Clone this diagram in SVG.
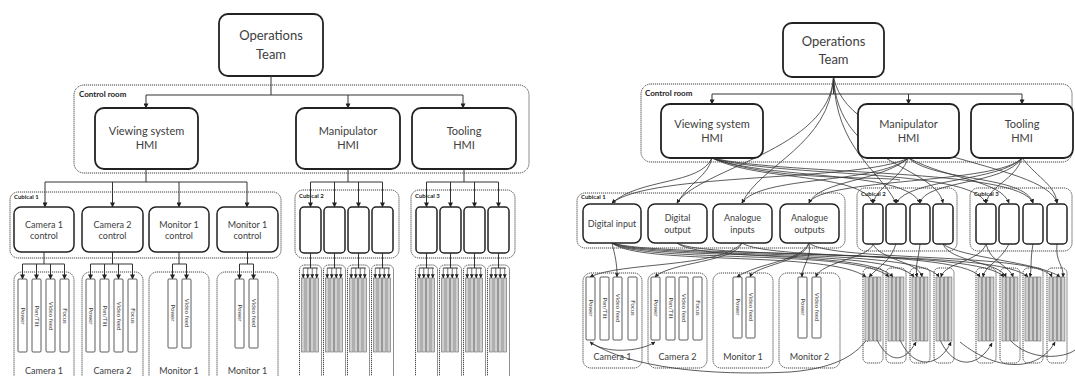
<svg xmlns="http://www.w3.org/2000/svg" width="1075" height="376" viewBox="0 0 1075 376">
<defs>
<marker id="ah" viewBox="0 0 6 6" refX="5.5" refY="3" markerWidth="5" markerHeight="5" orient="auto" markerUnits="userSpaceOnUse"><path d="M0,0 L6,3 L0,6z" fill="#222"/></marker>
<marker id="ahs" viewBox="0 0 6 6" refX="5.5" refY="3" markerWidth="4" markerHeight="4" orient="auto-start-reverse" markerUnits="userSpaceOnUse"><path d="M0,0 L6,3 L0,6z" fill="#222"/></marker>
<style>
.box{fill:#fff;stroke:#222;stroke-width:1.8}
.sbox{fill:#fff;stroke:#222;stroke-width:1.5}
.dot{fill:none;stroke:#444;stroke-width:1;stroke-dasharray:1.2 0.8}
.strip{fill:#fff;stroke:#333;stroke-width:0.8}
.gs{fill:#cfcfcf;stroke:#666;stroke-width:0.6}
.ln{fill:none;stroke:#333;stroke-width:1}
.ar{fill:none;stroke:#333;stroke-width:1;marker-end:url(#ah)}
.ars{fill:none;stroke:#333;stroke-width:0.7;marker-end:url(#ahs)}
.cv{fill:none;stroke:#333;stroke-width:0.8;marker-end:url(#ahs)}
.cvn{fill:none;stroke:#333;stroke-width:0.8}
.t{font-family:Lato,"Liberation Sans",sans-serif;fill:#404040;text-anchor:middle}
.big{font-size:13px}
.mid{font-size:11px}
.sm{font-size:9px}
.tiny{font-size:6px}
.lbl{font-family:Lato,"Liberation Sans",sans-serif;font-weight:bold;fill:#222}
</style>
</defs>

<!-- ===== LEFT DIAGRAM ===== -->
<g id="L-controlroom"><rect class="dot" x="74" y="85" width="455" height="88" rx="10"/><text class="lbl" x="79" y="97" font-size="8">Control room</text></g>
<g id="L-ops"><rect class="box" x="219" y="14" width="104" height="62" rx="9"/><text class="t big" x="271" y="40">Operations</text><text class="t big" x="271" y="59">Team</text></g>
<g id="L-view"><rect class="box" x="95" y="108" width="103" height="61" rx="9"/><text class="t mid" x="146.5" y="135">Viewing system</text><text class="t mid" x="146.5" y="149">HMI</text></g>
<g id="L-manip"><rect class="box" x="296" y="108" width="104" height="61" rx="9"/><text class="t mid" x="348" y="135">Manipulator</text><text class="t mid" x="348" y="149">HMI</text></g>
<g id="L-tool"><rect class="box" x="412" y="108" width="104" height="61" rx="9"/><text class="t mid" x="464" y="135">Tooling</text><text class="t mid" x="464" y="149">HMI</text></g>

<g id="L-cub1"><rect class="dot" x="10" y="192" width="271" height="66" rx="8"/><text class="lbl" x="14" y="199" font-size="6">Cubical 1</text></g>
<g id="L-cam1c"><rect class="sbox" x="14" y="207" width="60" height="45" rx="7"/><text class="t sm" x="44" y="228">Camera 1</text><text class="t sm" x="44" y="239">control</text></g>
<g id="L-cam2c"><rect class="sbox" x="82" y="207" width="61" height="45" rx="7"/><text class="t sm" x="112.5" y="228">Camera 2</text><text class="t sm" x="112.5" y="239">control</text></g>
<g id="L-mon1c"><rect class="sbox" x="149" y="207" width="60" height="45" rx="7"/><text class="t sm" x="179" y="228">Monitor 1</text><text class="t sm" x="179" y="239">control</text></g>
<g id="L-mon1bc"><rect class="sbox" x="217" y="207" width="61" height="45" rx="7"/><text class="t sm" x="247.5" y="228">Monitor 1</text><text class="t sm" x="247.5" y="239">control</text></g>

<g id="L-cub2"><rect class="dot" x="295" y="190" width="104" height="68" rx="8"/><text class="lbl" x="299" y="198" font-size="6">Cubical 2</text>
<rect class="sbox" x="300" y="207" width="21" height="46" rx="4"/><rect class="sbox" x="324" y="207" width="21" height="46" rx="4"/><rect class="sbox" x="348" y="207" width="21" height="46" rx="4"/><rect class="sbox" x="372" y="207" width="21" height="46" rx="4"/></g>
<g id="L-cub3"><rect class="dot" x="411" y="190" width="104" height="68" rx="8"/><text class="lbl" x="415" y="198" font-size="6">Cubical 3</text>
<rect class="sbox" x="416" y="207" width="21" height="46" rx="4"/><rect class="sbox" x="440" y="207" width="21" height="46" rx="4"/><rect class="sbox" x="464" y="207" width="21" height="46" rx="4"/><rect class="sbox" x="488" y="207" width="21" height="46" rx="4"/></g>

<g id="L-cam1"><rect class="dot" x="14" y="272" width="60" height="120" rx="8"/>
<rect class="strip" x="18" y="279" width="9" height="73" rx="1"/><rect class="strip" x="32" y="279" width="9" height="73" rx="1"/><rect class="strip" x="46" y="279" width="9" height="73" rx="1"/><rect class="strip" x="60" y="279" width="9" height="73" rx="1"/>
<text class="t tiny" transform="translate(22.5,316) rotate(90)" dy="2">Power</text><text class="t tiny" transform="translate(36.5,316) rotate(90)" dy="2">Pan/Tilt</text><text class="t tiny" transform="translate(50.5,316) rotate(90)" dy="2">Video feed</text><text class="t tiny" transform="translate(64.5,316) rotate(90)" dy="2">Focus</text>
<text class="t sm" x="44" y="374">Camera 1</text></g>
<g id="L-cam2"><rect class="dot" x="82" y="272" width="61" height="120" rx="8"/>
<rect class="strip" x="86" y="279" width="9" height="73" rx="1"/><rect class="strip" x="100" y="279" width="9" height="73" rx="1"/><rect class="strip" x="114" y="279" width="9" height="73" rx="1"/><rect class="strip" x="128" y="279" width="9" height="73" rx="1"/>
<text class="t tiny" transform="translate(90.5,316) rotate(90)" dy="2">Power</text><text class="t tiny" transform="translate(104.5,316) rotate(90)" dy="2">Pan/Tilt</text><text class="t tiny" transform="translate(118.5,316) rotate(90)" dy="2">Video feed</text><text class="t tiny" transform="translate(132.5,316) rotate(90)" dy="2">Focus</text>
<text class="t sm" x="112.5" y="374">Camera 2</text></g>
<g id="L-mon1"><rect class="dot" x="149" y="272" width="60" height="120" rx="8"/>
<rect class="strip" x="168" y="279" width="9" height="69" rx="1"/><rect class="strip" x="182" y="279" width="9" height="69" rx="1"/>
<text class="t tiny" transform="translate(172.5,313) rotate(90)" dy="2">Power</text><text class="t tiny" transform="translate(186.5,313) rotate(90)" dy="2">Video feed</text>
<text class="t sm" x="179" y="374">Monitor 1</text></g>
<g id="L-mon1b"><rect class="dot" x="217" y="272" width="61" height="120" rx="8"/>
<rect class="strip" x="235" y="279" width="9" height="69" rx="1"/><rect class="strip" x="249" y="279" width="9" height="69" rx="1"/>
<text class="t tiny" transform="translate(239.5,313) rotate(90)" dy="2">Power</text><text class="t tiny" transform="translate(253.5,313) rotate(90)" dy="2">Video feed</text>
<text class="t sm" x="247.5" y="374">Monitor 1</text></g>

<g id="L-narrow">
<g transform="translate(310.5,0)"><rect class="dot" x="-11" y="265" width="22" height="125" rx="5"/><rect class="gs" x="-9" y="278" width="3.5" height="74"/><rect class="gs" x="-4.5" y="278" width="3.5" height="74"/><rect class="gs" x="0" y="278" width="3.5" height="74"/><rect class="gs" x="4.5" y="278" width="3.5" height="74"/></g>
<g transform="translate(334.5,0)"><rect class="dot" x="-11" y="265" width="22" height="125" rx="5"/><rect class="gs" x="-9" y="278" width="3.5" height="74"/><rect class="gs" x="-4.5" y="278" width="3.5" height="74"/><rect class="gs" x="0" y="278" width="3.5" height="74"/><rect class="gs" x="4.5" y="278" width="3.5" height="74"/></g>
<g transform="translate(358.5,0)"><rect class="dot" x="-11" y="265" width="22" height="125" rx="5"/><rect class="gs" x="-9" y="278" width="3.5" height="74"/><rect class="gs" x="-4.5" y="278" width="3.5" height="74"/><rect class="gs" x="0" y="278" width="3.5" height="74"/><rect class="gs" x="4.5" y="278" width="3.5" height="74"/></g>
<g transform="translate(382.5,0)"><rect class="dot" x="-11" y="265" width="22" height="125" rx="5"/><rect class="gs" x="-9" y="278" width="3.5" height="74"/><rect class="gs" x="-4.5" y="278" width="3.5" height="74"/><rect class="gs" x="0" y="278" width="3.5" height="74"/><rect class="gs" x="4.5" y="278" width="3.5" height="74"/></g>
<g transform="translate(426.5,0)"><rect class="dot" x="-11" y="265" width="22" height="125" rx="5"/><rect class="gs" x="-9" y="278" width="3.5" height="74"/><rect class="gs" x="-4.5" y="278" width="3.5" height="74"/><rect class="gs" x="0" y="278" width="3.5" height="74"/><rect class="gs" x="4.5" y="278" width="3.5" height="74"/></g>
<g transform="translate(450.5,0)"><rect class="dot" x="-11" y="265" width="22" height="125" rx="5"/><rect class="gs" x="-9" y="278" width="3.5" height="74"/><rect class="gs" x="-4.5" y="278" width="3.5" height="74"/><rect class="gs" x="0" y="278" width="3.5" height="74"/><rect class="gs" x="4.5" y="278" width="3.5" height="74"/></g>
<g transform="translate(474.5,0)"><rect class="dot" x="-11" y="265" width="22" height="125" rx="5"/><rect class="gs" x="-9" y="278" width="3.5" height="74"/><rect class="gs" x="-4.5" y="278" width="3.5" height="74"/><rect class="gs" x="0" y="278" width="3.5" height="74"/><rect class="gs" x="4.5" y="278" width="3.5" height="74"/></g>
<g transform="translate(498.5,0)"><rect class="dot" x="-11" y="265" width="22" height="125" rx="5"/><rect class="gs" x="-9" y="278" width="3.5" height="74"/><rect class="gs" x="-4.5" y="278" width="3.5" height="74"/><rect class="gs" x="0" y="278" width="3.5" height="74"/><rect class="gs" x="4.5" y="278" width="3.5" height="74"/></g>
</g>

<g id="L-connectors">
<path class="ln" d="M271,76 V95 M146,95 H463 M146,169 V182 M45,182 H247 M348,169 V182 M310.5,182 H382.5 M464,169 V182 M426.5,182 H498.5"/>
<path class="ar" d="M146,95 V108"/><path class="ar" d="M348,95 V108"/><path class="ar" d="M463,95 V108"/>
<path class="ar" d="M45,182 V207"/><path class="ar" d="M112.5,182 V207"/><path class="ar" d="M179,182 V207"/><path class="ar" d="M247,182 V207"/>
<path class="ar" d="M310.5,182 V207"/><path class="ar" d="M334.5,182 V207"/><path class="ar" d="M358.5,182 V207"/><path class="ar" d="M382.5,182 V207"/>
<path class="ar" d="M426.5,182 V207"/><path class="ar" d="M450.5,182 V207"/><path class="ar" d="M474.5,182 V207"/><path class="ar" d="M498.5,182 V207"/>
<path class="ln" d="M44,252 V264 M22.5,264 H64.5 M112.5,252 V264 M90.5,264 H132.5 M179,252 V264 M172.5,264 H186.5 M247.5,252 V264 M239.5,264 H253.5"/>
<path class="ar" d="M22.5,264 V279"/><path class="ar" d="M36.5,264 V279"/><path class="ar" d="M50.5,264 V279"/><path class="ar" d="M64.5,264 V279"/>
<path class="ar" d="M90.5,264 V279"/><path class="ar" d="M104.5,264 V279"/><path class="ar" d="M118.5,264 V279"/><path class="ar" d="M132.5,264 V279"/>
<path class="ar" d="M172.5,264 V279"/><path class="ar" d="M186.5,264 V279"/><path class="ar" d="M239.5,264 V279"/><path class="ar" d="M253.5,264 V279"/>
<path class="ln" d="M310.5,253 V268 M303.25,268 H317.75 M334.5,253 V268 M327.25,268 H341.75 M358.5,253 V268 M351.25,268 H365.75 M382.5,253 V268 M375.25,268 H389.75 M426.5,253 V268 M419.25,268 H433.75 M450.5,253 V268 M443.25,268 H457.75 M474.5,253 V268 M467.25,268 H481.75 M498.5,253 V268 M491.25,268 H505.75"/>
<path class="ars" d="M303.25,268 V278"/><path class="ars" d="M307.75,268 V278"/><path class="ars" d="M312.25,268 V278"/><path class="ars" d="M316.75,268 V278"/>
<path class="ars" d="M327.25,268 V278"/><path class="ars" d="M331.75,268 V278"/><path class="ars" d="M336.25,268 V278"/><path class="ars" d="M340.75,268 V278"/>
<path class="ars" d="M351.25,268 V278"/><path class="ars" d="M355.75,268 V278"/><path class="ars" d="M360.25,268 V278"/><path class="ars" d="M364.75,268 V278"/>
<path class="ars" d="M375.25,268 V278"/><path class="ars" d="M379.75,268 V278"/><path class="ars" d="M384.25,268 V278"/><path class="ars" d="M388.75,268 V278"/>
<path class="ars" d="M419.25,268 V278"/><path class="ars" d="M423.75,268 V278"/><path class="ars" d="M428.25,268 V278"/><path class="ars" d="M432.75,268 V278"/>
<path class="ars" d="M443.25,268 V278"/><path class="ars" d="M447.75,268 V278"/><path class="ars" d="M452.25,268 V278"/><path class="ars" d="M456.75,268 V278"/>
<path class="ars" d="M467.25,268 V278"/><path class="ars" d="M471.75,268 V278"/><path class="ars" d="M476.25,268 V278"/><path class="ars" d="M480.75,268 V278"/>
<path class="ars" d="M491.25,268 V278"/><path class="ars" d="M495.75,268 V278"/><path class="ars" d="M500.25,268 V278"/><path class="ars" d="M504.75,268 V278"/>
</g>

<!-- ===== RIGHT DIAGRAM ===== -->
<g id="R-controlroom"><rect class="dot" x="641" y="84" width="431" height="78" rx="10"/><text class="lbl" x="645" y="96" font-size="8">Control room</text></g>

<g id="R-connectors">
<path class="ln" d="M833.5,77 V94 M712,94 H1022"/>
<path class="ar" d="M712,94 V104"/><path class="ar" d="M908.5,94 V104"/><path class="ar" d="M1022,94 V104"/>
<path class="cv" d="M712,158 C700,185 640,178 612,203"/>
<path class="cv" d="M712,158 C708,176 690,182 677,203"/>
<path class="cv" d="M712,158 C760,182 860,172 873,203"/>
<path class="cv" d="M712,158 C770,180 905,170 920,203"/>
<path class="cv" d="M712,158 C780,178 970,168 986,203"/>
<path class="cv" d="M712,158 C790,176 1020,168 1033,203"/>
<path class="cvn" d="M712,158 C775,182 880,176 900,180"/>
<path class="cv" d="M833.5,77 C830,150 700,168 677,203"/>
<path class="cv" d="M833.5,77 C830,145 760,165 742,203"/>
<path class="cv" d="M833.5,77 C838,165 935,165 943,203"/>
<path class="cv" d="M833.5,77 C850,160 1045,160 1057,203"/>
<path class="cv" d="M833.5,77 C836,150 880,170 896,203"/>
<path class="cv" d="M908.5,158 C880,182 820,180 809,203"/>
<path class="cv" d="M908.5,158 C875,185 760,175 742,203"/>
<path class="cv" d="M908.5,158 C860,182 650,172 612,203"/>
<path class="cv" d="M908.5,158 C900,180 878,185 873,203"/>
<path class="cv" d="M908.5,158 C950,180 1000,180 1009,203"/>
<path class="cv" d="M908.5,158 C935,182 1025,175 1033,203"/>
<path class="cv" d="M1022,158 C1000,182 910,178 896,203"/>
<path class="cv" d="M1022,158 C1005,185 925,180 920,203"/>
<path class="cv" d="M1022,158 C1000,184 820,178 809,203"/>
<path class="cv" d="M1022,158 C1015,180 990,185 986,203"/>
<path class="cv" d="M1022,158 C1040,180 1055,185 1057,203"/>
<path class="cv" d="M612,243 C615,256 617,262 617,277"/>
<path class="cv" d="M612,243 C640,266 830,250 866,277"/>
<path class="cv" d="M612,243 C645,264 860,248 889,277"/>
<path class="cv" d="M612,243 C650,262 890,246 914,277"/>
<path class="cv" d="M612,243 C655,260 920,246 939,277"/>
<path class="cv" d="M612,243 C660,258 960,246 980,277"/>
<path class="cv" d="M677,243 C700,262 870,250 893,277"/>
<path class="cv" d="M677,243 C705,260 980,248 1004,277"/>
<path class="cv" d="M742,243 C720,268 620,262 590,277"/>
<path class="cv" d="M742,243 C735,262 670,262 655,277"/>
<path class="cv" d="M742,243 C770,262 1000,250 1028,277"/>
<path class="cv" d="M809,243 C800,262 760,262 737,277"/>
<path class="cv" d="M809,243 C805,262 755,265 750,277"/>
<path class="cv" d="M809,243 C812,258 802,265 802,277"/>
<path class="cv" d="M809,243 C830,262 1040,252 1052,277"/>
<path class="cv" d="M873,244 C870,258 820,262 816,277"/>
<path class="cv" d="M896,244 C890,262 880,265 869,277"/>
<path class="cv" d="M920,244 C918,262 915,265 917,277"/>
<path class="cv" d="M943,244 C950,262 1000,262 1006,277"/>
<path class="cv" d="M943,244 C960,258 1040,262 1060,277"/>
<path class="cv" d="M986,244 C980,262 945,262 941,277"/>
<path class="cv" d="M1009,244 C1000,262 985,265 983,277"/>
<path class="cv" d="M1033,244 C1030,262 1032,265 1030,277"/>
<path class="cv" d="M1057,244 C1055,262 1064,265 1063,277"/>
<path class="cv" d="M986,244 C990,262 1010,266 1013,277"/>
<path class="cv" d="M873,244 C880,260 920,262 922,277"/>
<path class="cv" style="marker-start:url(#ahs)" d="M590,342 C605,354 640,352 655,342"/>
<path class="cv" d="M590,342 C630,368 710,376 790,372 C840,368 858,352 868,338"/>
<path class="cv" d="M877,340 C890,365 905,362 916,342"/>
<path class="cv" d="M900,340 C915,372 940,366 951,342"/>
<path class="cv" d="M940,340 C955,372 980,366 992,343"/>
<path class="cv" d="M960,342 C1000,374 1040,370 1055,342"/>
<path class="cvn" d="M1010,340 C1030,362 1065,358 1075,350"/>
</g>

<g id="R-ops"><rect class="box" x="783" y="23" width="101" height="54" rx="9"/><text class="t big" x="833.5" y="46">Operations</text><text class="t big" x="833.5" y="64">Team</text></g>
<g id="R-view"><rect class="box" x="661" y="104" width="102" height="54" rx="9"/><text class="t mid" x="712" y="128">Viewing system</text><text class="t mid" x="712" y="142">HMI</text></g>
<g id="R-manip"><rect class="box" x="858" y="104" width="101" height="54" rx="9"/><text class="t mid" x="908.5" y="128">Manipulator</text><text class="t mid" x="908.5" y="142">HMI</text></g>
<g id="R-tool"><rect class="box" x="971" y="104" width="102" height="54" rx="9"/><text class="t mid" x="1022" y="128">Tooling</text><text class="t mid" x="1022" y="142">HMI</text></g>

<g id="R-cub1"><rect class="dot" x="577" y="193" width="268" height="55" rx="8"/><text class="lbl" x="581" y="199" font-size="6">Cubical 1</text></g>
<g id="R-di"><rect class="sbox" x="583" y="204" width="58" height="39" rx="7"/><text class="t sm" x="612" y="227">Digital input</text></g>
<g id="R-do"><rect class="sbox" x="648" y="204" width="59" height="39" rx="7"/><text class="t sm" x="677.5" y="221">Digital</text><text class="t sm" x="677.5" y="233">output</text></g>
<g id="R-ai"><rect class="sbox" x="713" y="204" width="59" height="39" rx="7"/><text class="t sm" x="742.5" y="221">Analogue</text><text class="t sm" x="742.5" y="233">inputs</text></g>
<g id="R-ao"><rect class="sbox" x="780" y="204" width="59" height="39" rx="7"/><text class="t sm" x="809.5" y="221">Analogue</text><text class="t sm" x="809.5" y="233">outputs</text></g>

<g id="R-cub2"><rect class="dot" x="857" y="188" width="100" height="63" rx="8"/><text class="lbl" x="861" y="196" font-size="6">Cubical 2</text>
<rect class="sbox" x="863" y="204" width="20" height="40" rx="4"/><rect class="sbox" x="886" y="204" width="20" height="40" rx="4"/><rect class="sbox" x="910" y="204" width="20" height="40" rx="4"/><rect class="sbox" x="933" y="204" width="20" height="40" rx="4"/></g>
<g id="R-cub3"><rect class="dot" x="970" y="188" width="102" height="63" rx="8"/><text class="lbl" x="974" y="196" font-size="6">Cubical 3</text>
<rect class="sbox" x="976" y="204" width="20" height="40" rx="4"/><rect class="sbox" x="999" y="204" width="20" height="40" rx="4"/><rect class="sbox" x="1023" y="204" width="20" height="40" rx="4"/><rect class="sbox" x="1047" y="204" width="20" height="40" rx="4"/></g>

<g id="R-cam1"><rect class="dot" x="583" y="273" width="59" height="95" rx="8"/>
<rect class="strip" x="586" y="277" width="9" height="63" rx="1"/><rect class="strip" x="600" y="277" width="9" height="63" rx="1"/><rect class="strip" x="613" y="277" width="9" height="63" rx="1"/><rect class="strip" x="628" y="277" width="9" height="63" rx="1"/>
<text class="t tiny" transform="translate(590.5,308) rotate(90)" dy="2">Power</text><text class="t tiny" transform="translate(604.5,308) rotate(90)" dy="2">Pan/Tilt</text><text class="t tiny" transform="translate(617.5,308) rotate(90)" dy="2">Video feed</text><text class="t tiny" transform="translate(632.5,308) rotate(90)" dy="2">Focus</text>
<text class="t sm" x="612.5" y="360">Camera 1</text></g>
<g id="R-cam2"><rect class="dot" x="648" y="273" width="59" height="95" rx="8"/>
<rect class="strip" x="651" y="277" width="9" height="63" rx="1"/><rect class="strip" x="666" y="277" width="9" height="63" rx="1"/><rect class="strip" x="679" y="277" width="9" height="63" rx="1"/><rect class="strip" x="693" y="277" width="9" height="63" rx="1"/>
<text class="t tiny" transform="translate(655.5,308) rotate(90)" dy="2">Power</text><text class="t tiny" transform="translate(670.5,308) rotate(90)" dy="2">Pan/Tilt</text><text class="t tiny" transform="translate(683.5,308) rotate(90)" dy="2">Video feed</text><text class="t tiny" transform="translate(697.5,308) rotate(90)" dy="2">Focus</text>
<text class="t sm" x="677.5" y="360">Camera 2</text></g>
<g id="R-mon1"><rect class="dot" x="713" y="273" width="60" height="95" rx="8"/>
<rect class="strip" x="733" y="277" width="9" height="61" rx="1"/><rect class="strip" x="746" y="277" width="9" height="61" rx="1"/>
<text class="t tiny" transform="translate(737.5,307) rotate(90)" dy="2">Power</text><text class="t tiny" transform="translate(750.5,307) rotate(90)" dy="2">Video feed</text>
<text class="t sm" x="743" y="360">Monitor 1</text></g>
<g id="R-mon2"><rect class="dot" x="779" y="273" width="61" height="95" rx="8"/>
<rect class="strip" x="798" y="277" width="9" height="61" rx="1"/><rect class="strip" x="812" y="277" width="9" height="61" rx="1"/>
<text class="t tiny" transform="translate(802.5,307) rotate(90)" dy="2">Power</text><text class="t tiny" transform="translate(816.5,307) rotate(90)" dy="2">Video feed</text>
<text class="t sm" x="809.5" y="360">Monitor 2</text></g>

<g id="R-narrow">
<g transform="translate(873,0)"><rect class="dot" x="-10" y="268" width="20" height="95" rx="5"/><rect class="gs" x="-8" y="277" width="3.3" height="64"/><rect class="gs" x="-3.8" y="277" width="3.3" height="64"/><rect class="gs" x="0.4" y="277" width="3.3" height="64"/><rect class="gs" x="4.6" y="277" width="3.3" height="64"/></g>
<g transform="translate(896,0)"><rect class="dot" x="-10" y="268" width="20" height="95" rx="5"/><rect class="gs" x="-8" y="277" width="3.3" height="64"/><rect class="gs" x="-3.8" y="277" width="3.3" height="64"/><rect class="gs" x="0.4" y="277" width="3.3" height="64"/><rect class="gs" x="4.6" y="277" width="3.3" height="64"/></g>
<g transform="translate(920,0)"><rect class="dot" x="-10" y="268" width="20" height="95" rx="5"/><rect class="gs" x="-8" y="277" width="3.3" height="64"/><rect class="gs" x="-3.8" y="277" width="3.3" height="64"/><rect class="gs" x="0.4" y="277" width="3.3" height="64"/><rect class="gs" x="4.6" y="277" width="3.3" height="64"/></g>
<g transform="translate(944,0)"><rect class="dot" x="-10" y="268" width="20" height="95" rx="5"/><rect class="gs" x="-8" y="277" width="3.3" height="64"/><rect class="gs" x="-3.8" y="277" width="3.3" height="64"/><rect class="gs" x="0.4" y="277" width="3.3" height="64"/><rect class="gs" x="4.6" y="277" width="3.3" height="64"/></g>
<g transform="translate(986,0)"><rect class="dot" x="-10" y="268" width="20" height="95" rx="5"/><rect class="gs" x="-8" y="277" width="3.3" height="64"/><rect class="gs" x="-3.8" y="277" width="3.3" height="64"/><rect class="gs" x="0.4" y="277" width="3.3" height="64"/><rect class="gs" x="4.6" y="277" width="3.3" height="64"/></g>
<g transform="translate(1010,0)"><rect class="dot" x="-10" y="268" width="20" height="95" rx="5"/><rect class="gs" x="-8" y="277" width="3.3" height="64"/><rect class="gs" x="-3.8" y="277" width="3.3" height="64"/><rect class="gs" x="0.4" y="277" width="3.3" height="64"/><rect class="gs" x="4.6" y="277" width="3.3" height="64"/></g>
<g transform="translate(1033,0)"><rect class="dot" x="-10" y="268" width="20" height="95" rx="5"/><rect class="gs" x="-8" y="277" width="3.3" height="64"/><rect class="gs" x="-3.8" y="277" width="3.3" height="64"/><rect class="gs" x="0.4" y="277" width="3.3" height="64"/><rect class="gs" x="4.6" y="277" width="3.3" height="64"/></g>
<g transform="translate(1057,0)"><rect class="dot" x="-10" y="268" width="20" height="95" rx="5"/><rect class="gs" x="-8" y="277" width="3.3" height="64"/><rect class="gs" x="-3.8" y="277" width="3.3" height="64"/><rect class="gs" x="0.4" y="277" width="3.3" height="64"/><rect class="gs" x="4.6" y="277" width="3.3" height="64"/></g>
</g>
</svg>
